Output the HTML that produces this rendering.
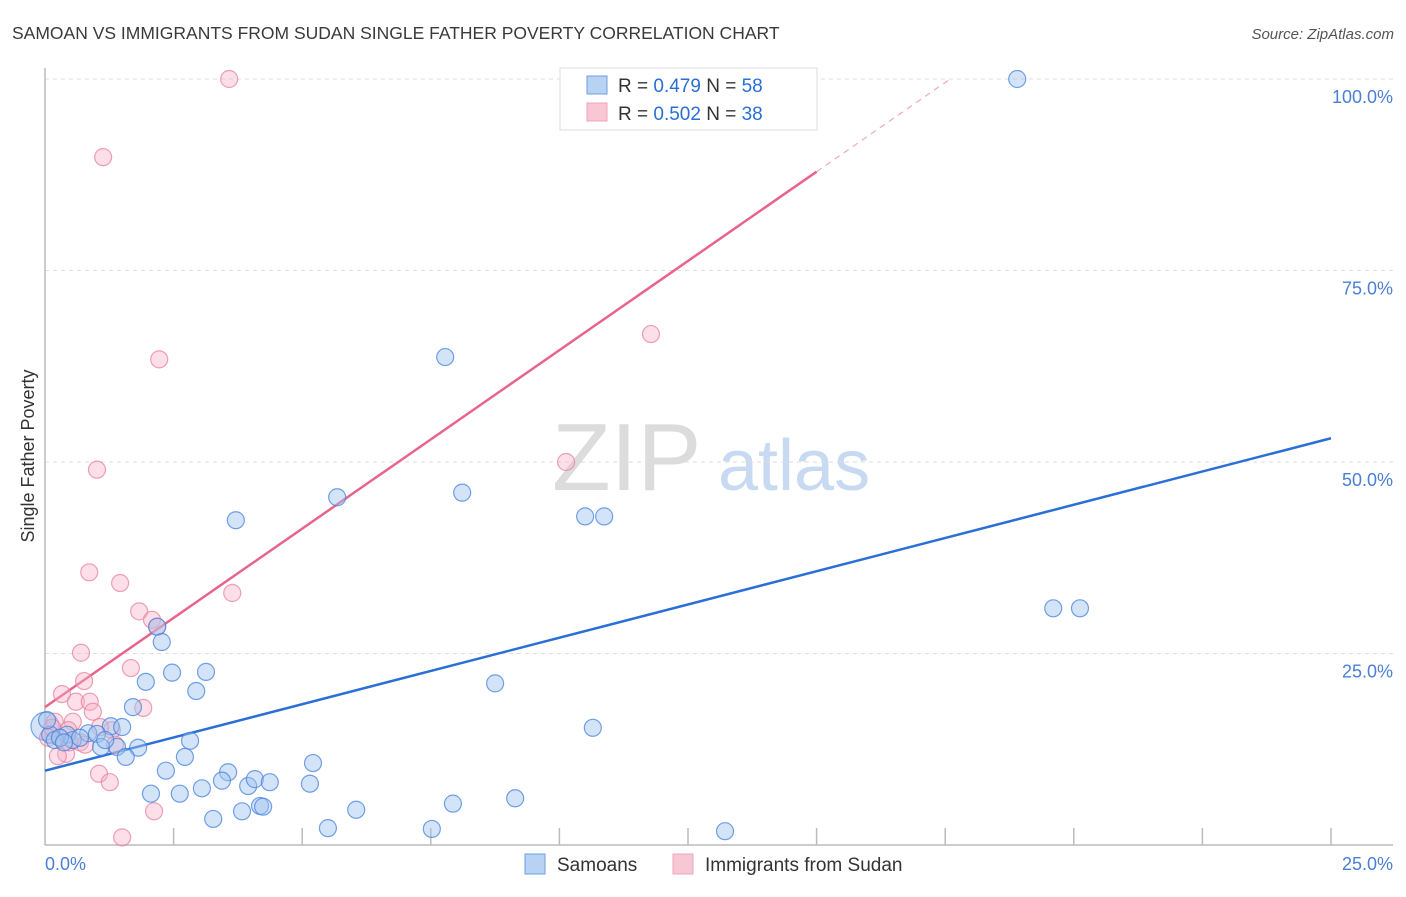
<!DOCTYPE html>
<html><head><meta charset="utf-8"><style>
body{margin:0;background:#fff;font-family:"Liberation Sans",sans-serif;}
svg text{font-family:"Liberation Sans",sans-serif;}
</style></head><body>
<svg id="chart" width="1406" height="892" viewBox="0 0 1406 892" xmlns="http://www.w3.org/2000/svg">
<text x="12" y="39" font-size="17.5" fill="#3a3a3a">SAMOAN VS IMMIGRANTS FROM SUDAN SINGLE FATHER POVERTY CORRELATION CHART</text>
<text x="1394" y="39" font-size="15" fill="#555" text-anchor="end" font-style="italic">Source: ZipAtlas.com</text>
<g>
<text x="552" y="490" font-size="96" fill="#dcdcdc" font-family="Liberation Serif,serif">ZIP</text>
<text x="718" y="490" font-size="72" fill="#c8daf2">atlas</text>
</g>
<g id="grid"></g>
<g id="axes"></g>
<g id="trend"></g>
<g id="pts"></g>
<text transform="translate(34,456) rotate(-90)" font-size="18" fill="#333" text-anchor="middle">Single Father Poverty</text>
<text x="45" y="870" font-size="18" fill="#4a7fd4">0.0%</text>
<text x="1393" y="870" font-size="18" fill="#4a7fd4" text-anchor="end">25.0%</text>
<g>
<rect x="560" y="68" width="257" height="62" fill="#fff" stroke="#ddd"/>
<rect x="587" y="76" width="20" height="18" fill="#b8d2f4" stroke="#6c9ee0"/>
<rect x="587" y="103" width="20" height="18" fill="#f9c6d4" stroke="#eea4bb"/>
<text x="618" y="92" font-size="19" fill="#333">R = <tspan fill="#2a6fd6">0.479</tspan>   N = <tspan fill="#2a6fd6">58</tspan></text>
<text x="618" y="120" font-size="19" fill="#333">R = <tspan fill="#2a6fd6">0.502</tspan>   N = <tspan fill="#2a6fd6">38</tspan></text>
</g>
<g>
<rect x="525" y="854" width="20" height="20" fill="#b8d2f4" stroke="#6c9ee0"/>
<text x="557" y="871" font-size="19" fill="#333">Samoans</text>
<rect x="673" y="854" width="20" height="20" fill="#f9c6d4" stroke="#eea4bb"/>
<text x="705" y="871" font-size="19" fill="#333">Immigrants from Sudan</text>
</g>
</svg>
<script>
const blueX=[18.9,7.78,5.68,8.11,3.71,10.5,10.87,19.6,20.12,2.18,2.27,2.47,3.13,1.96,2.94,8.75,1.71,10.65,1.28,1.5,0.84,0.43,1.01,0.1,0.19,0.04,0.54,1.81,2.82,1.4,1.09,1.57,2.72,5.21,2.35,3.56,3.44,3.95,4.08,4.37,5.15,2.06,2.62,3.05,9.14,4.18,4.24,6.05,7.93,3.27,3.83,5.5,7.52,13.22,0.29,0.68,0.37,1.17];
const blueY=[100,63.7,45.4,46.0,42.4,42.9,42.9,30.9,30.9,28.5,26.5,22.5,22.6,21.3,20.1,21.1,18.0,15.3,15.5,15.4,14.6,14.4,14.5,14.4,13.7,16.3,13.7,12.7,13.6,12.8,12.8,11.5,11.5,10.7,9.7,9.5,8.4,7.7,8.6,8.2,8.0,6.7,6.7,7.4,6.1,5.1,5.0,4.6,5.4,3.4,4.4,2.2,2.1,1.8,14.0,14.0,13.4,13.7];
const pinkX=[3.58,1.13,2.22,11.78,1.01,10.13,0.86,1.46,3.64,1.83,2.08,2.18,0.7,0.76,1.67,0.33,0.6,0.87,0.93,1.91,0.19,0.54,0.45,1.3,0.29,0.06,0.68,0.41,0.25,1.05,1.26,2.12,1.5,0.14,0.78,1.36,1.07,0.47];
const pinkY=[100,89.8,63.4,66.7,49.0,50.0,35.6,34.2,32.9,30.5,29.4,28.5,25.1,21.4,23.1,19.7,18.7,18.7,17.4,17.9,16.1,16.1,15.0,15.0,14.0,14.0,13.4,11.9,11.6,9.3,8.2,4.4,1.0,15.3,13.1,13.1,15.4,13.4];
const yTicks=[25,50,75,100];
const yTickLabels=["25.0%","50.0%","75.0%","100.0%"];
const xTicks=[2.5,5,7.5,10,12.5,15,17.5,20,22.5,25];
const blueTrend=[9.7,53.1];
const pinkTrend=[18.0,87.9];
const NS="http://www.w3.org/2000/svg";
const X0=45,X1=1331,Y0=845,Y100=79;
function sx(v){return X0+(X1-X0)*v/25;}
function sy(v){return Y0-(Y0-Y100)*v/100;}
function mk(tag,attrs,parent){const e=document.createElementNS(NS,tag);for(const k in attrs)e.setAttribute(k,attrs[k]);parent.appendChild(e);return e;}
const grid=document.getElementById('grid'),axes=document.getElementById('axes'),trend=document.getElementById('trend'),pts=document.getElementById('pts');
yTicks.forEach((t,i)=>{
 const l=mk('line',{x1:X0,x2:1393,y1:sy(t),y2:sy(t),stroke:'#ddd','stroke-dasharray':'4,4'},grid);
 
 
 const tx=mk('text',{x:1393,y:sy(t)+24,'font-size':18,fill:'#4a7fd4','text-anchor':'end'},grid);
 tx.textContent=yTickLabels[i];
 
 
});
const la=mk('line',{x1:X0,x2:X0,y1:68,y2:Y0,stroke:'#bbb','stroke-width':1.5},axes);


const lb=mk('line',{x1:X0,x2:1393,y1:Y0,y2:Y0,stroke:'#bbb','stroke-width':1.5},axes);


xTicks.forEach(t=>{
 const l=mk('line',{x1:sx(t),x2:sx(t),y1:828,y2:Y0,stroke:'#bbb','stroke-width':1.5},axes);
 
 
});
function dot(x,y,fill,stroke,name){
 const c=mk('circle',{cx:sx(x),cy:sy(y),r:8.5,fill:fill,stroke:stroke,'stroke-width':1.2},pts);
 
 
}
dot(0,15.5,'rgba(160,196,240,0.45)','rgba(70,130,220,0.7)','samoan-point');
pts.lastChild.setAttribute('r',14);
pinkX.forEach((x,i)=>dot(x,pinkY[i],'rgba(248,176,198,0.4)','rgba(232,130,160,0.75)','sudan-point'));
blueX.forEach((x,i)=>dot(x,blueY[i],'rgba(160,196,240,0.45)','rgba(70,130,220,0.75)','samoan-point'));
const bl=mk('line',{x1:sx(0),y1:sy(blueTrend[0]),x2:sx(25),y2:sy(blueTrend[1]),stroke:'#2a6fd6','stroke-width':2.5},trend);


const slope=(pinkTrend[1]-pinkTrend[0])/15;
const pl=mk('line',{x1:sx(0),y1:sy(pinkTrend[0]),x2:sx(15),y2:sy(pinkTrend[1]),stroke:'#e8648c','stroke-width':2.5},trend);


const xe=(100-pinkTrend[0])/slope;
const pd=mk('line',{x1:sx(15),y1:sy(pinkTrend[1]),x2:sx(xe),y2:sy(100),stroke:'#f0a8bd','stroke-width':1.2,'stroke-dasharray':'6,5'},trend);


</script>
</body></html>
